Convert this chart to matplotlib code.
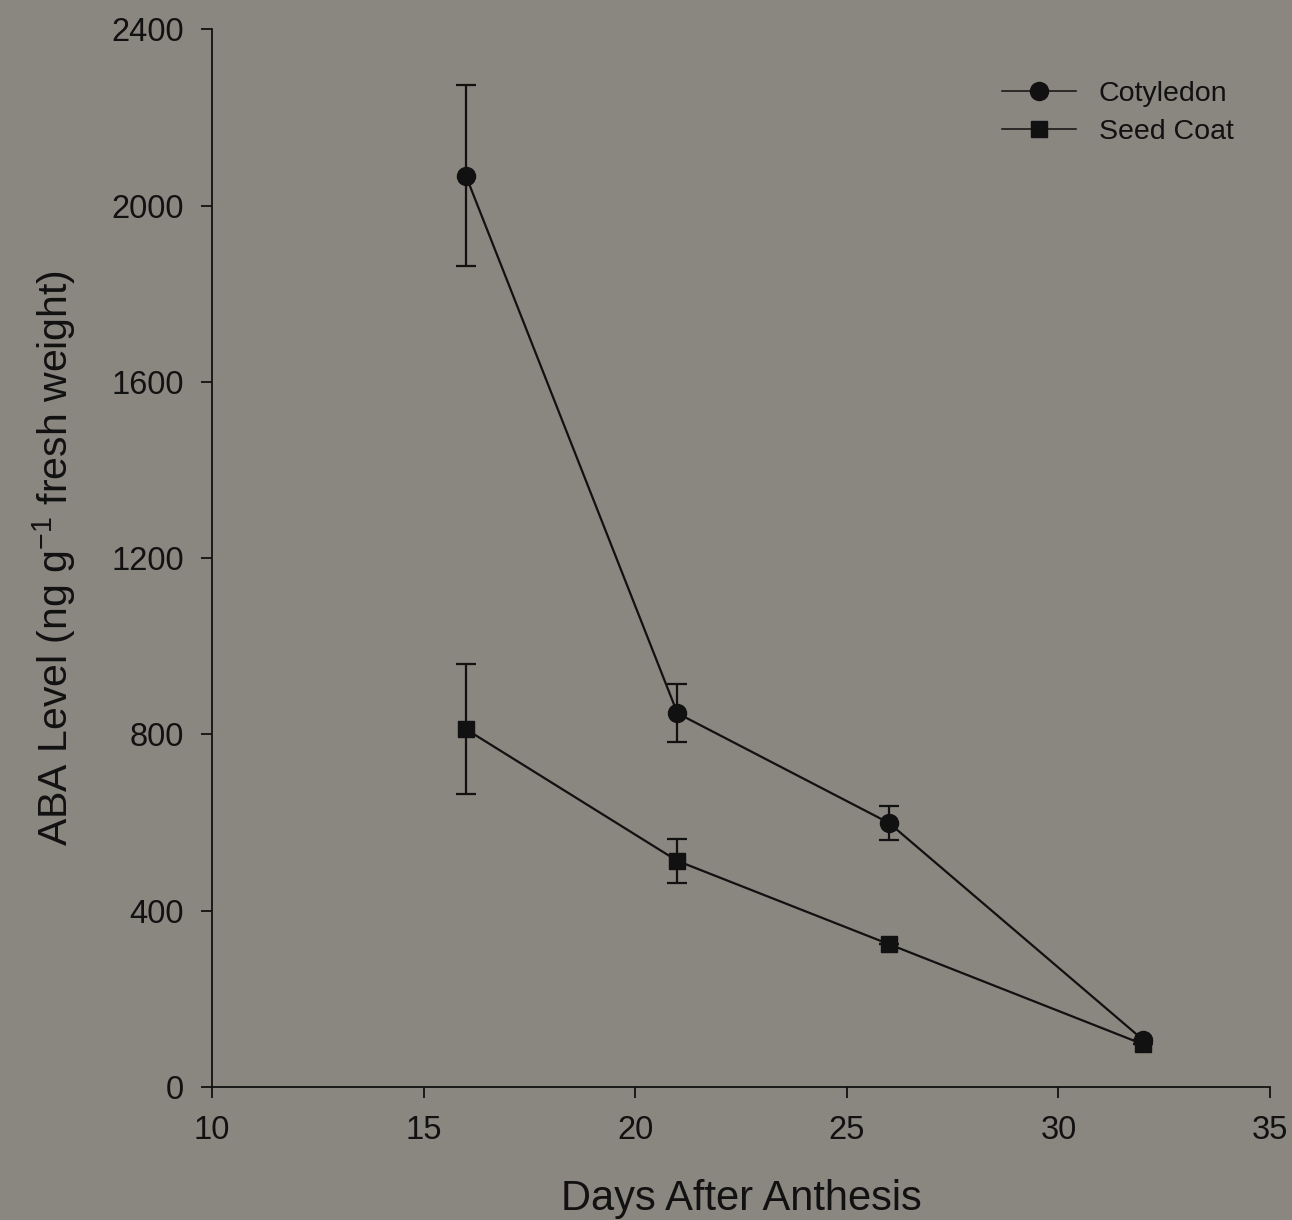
import matplotlib
matplotlib.use("Agg")
import matplotlib.pyplot as plt
from matplotlib.lines import Line2D

days = [16, 21, 26, 32]
cotyledon = [2068, 848, 599, 107]
cotyledon_err = [205, 66, 39, 0]
seed_coat = [812, 513, 324, 97]
seed_coat_err = [148, 50, 0, 0]

plt.rcParams['font.family'] = ['Liberation Sans', 'DejaVu Sans']
plt.rcParams['mathtext.fontset'] = 'custom'
plt.rcParams['mathtext.rm'] = 'Liberation Sans'
plt.rcParams['mathtext.default'] = 'regular'
bg = '#8a8680'
ink = '#111111'

fig = plt.figure(figsize=(12.92, 12.2), dpi=100, facecolor=bg)
ax = fig.add_axes([0.164, 0.109, 0.819, 0.867], facecolor=bg)

ax.errorbar(days, cotyledon, yerr=cotyledon_err, color=ink, marker='o', markersize=13,
            lw=1.6, elinewidth=1.6, capsize=7, capthick=1.6, label='Cotyledon')
ax.errorbar(days, seed_coat, yerr=seed_coat_err, color=ink, marker='s', markersize=11,
            lw=1.6, elinewidth=1.6, capsize=7, capthick=1.6, label='Seed Coat')

ax.set_xlim(10, 35)
ax.set_ylim(0, 2400)
ax.set_xticks([10, 15, 20, 25, 30, 35])
ax.set_yticks([0, 400, 800, 1200, 1600, 2000, 2400])
for s in ['top', 'right']:
    ax.spines[s].set_visible(False)
for s in ['left', 'bottom']:
    ax.spines[s].set_color(ink)
    ax.spines[s].set_linewidth(1.3)
ax.tick_params(direction='out', length=8, width=1.3, colors=ink, labelsize=23.5, pad=12)

ax.set_xlabel('Days After Anthesis', fontsize=30, color=ink, labelpad=24)
ax.set_ylabel(r'ABA Level (ng g$^{-1}$ fresh weight)', fontsize=29.5, color=ink, labelpad=24)

handles = [Line2D([], [], color=ink, marker='o', markersize=13, lw=1.1),
           Line2D([], [], color=ink, marker='s', markersize=11, lw=1.1)]
leg = ax.legend(handles, ['Cotyledon', 'Seed Coat'], loc='upper right', bbox_to_anchor=(0.99, 0.975),
                frameon=False, fontsize=20.5, handlelength=2.6, handletextpad=0.8, labelspacing=0.4)
for t in leg.get_texts():
    t.set_color(ink)

fig.savefig('out.png', dpi=100, facecolor=bg)
